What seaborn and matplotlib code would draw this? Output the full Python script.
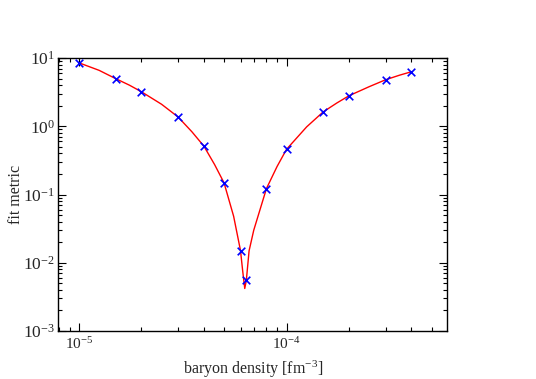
import matplotlib
matplotlib.use('Agg')

import matplotlib.pyplot as plt
import seaborn as sns
import pandas as pd

# measured points (blue crosses)
density = [1e-5, 1.5e-5, 2e-5, 3e-5, 4e-5, 5e-5, 6e-5, 6.4e-5,
           8e-5, 1e-4, 1.5e-4, 2e-4, 3e-4, 4e-4]
metric = [8.5, 5.0, 3.2, 1.37, 0.51, 0.148, 0.0151, 0.0055,
          0.122, 0.46, 1.62, 2.8, 4.8, 6.3]

# fitted curve (red)
fit_density = [1e-5, 1.25e-5, 1.5e-5, 1.75e-5, 2e-5, 2.5e-5, 3e-5, 3.5e-5,
               4e-5, 4.5e-5, 5e-5, 5.56e-5, 6e-5, 6.15e-5, 6.29e-5, 6.4e-5,
               6.6e-5, 6.95e-5, 8e-5, 9e-5, 1e-4, 1.25e-4, 1.5e-4, 1.75e-4,
               2e-4, 2.5e-4, 3e-4, 3.5e-4, 4e-4]
fit_metric = [8.5, 6.6, 5.0, 4.0, 3.2, 2.1, 1.37, 0.83,
              0.51, 0.275, 0.148, 0.048, 0.0151, 0.0075, 0.0042, 0.0055,
              0.015, 0.030, 0.122, 0.257, 0.46, 0.98, 1.62, 2.2,
              2.8, 3.8, 4.8, 5.6, 6.3]

sns.set_style('ticks')
plt.rcParams['font.family'] = ['Liberation Serif', 'DejaVu Serif']
plt.rcParams['mathtext.fontset'] = 'custom'
plt.rcParams['mathtext.rm'] = 'Liberation Serif'
plt.rcParams['mathtext.it'] = 'Liberation Serif:italic'
plt.rcParams['axes.unicode_minus'] = False

pts = pd.DataFrame({'density': density, 'metric': metric})
fit = pd.DataFrame({'density': fit_density, 'metric': fit_metric})

fig = plt.figure(figsize=(5.36, 3.79), dpi=100)
ax = fig.add_axes([0.1082, 0.1266, 0.7257, 0.7203])

sns.lineplot(data=fit, x='density', y='metric', color='red', linewidth=1.0,
             ax=ax, sort=False)
sns.scatterplot(data=pts, x='density', y='metric', marker='x', color='blue',
                s=30, linewidth=1.2, ax=ax, zorder=3)

ax.set_xscale('log')
ax.set_yscale('log')
ax.set_xlim(7.92e-6, 5.93e-4)
ax.set_ylim(1e-3, 1e1)

ax.tick_params(which='both', direction='in', top=True, right=True,
               width=0.8, color='black')
ax.tick_params(which='major', length=6)
ax.tick_params(which='minor', length=3)
ax.tick_params(axis='x', labelsize=11, pad=4)
ax.tick_params(axis='y', labelsize=12.5, pad=2)
for s in ax.spines.values():
    s.set_linewidth(1.0)
    s.set_color('black')

ax.set_xlabel('baryon density [fm$^{-3}$]', fontsize=11.5)
ax.set_ylabel('fit metric', fontsize=11.5)
ax.xaxis.label.set_va('center')
ax.yaxis.label.set_va('center')
ax.xaxis.set_label_coords(0.501, -0.139)
ax.yaxis.set_label_coords(-0.108, 0.5)

plt.savefig('out.png', dpi=100)
plt.close()
